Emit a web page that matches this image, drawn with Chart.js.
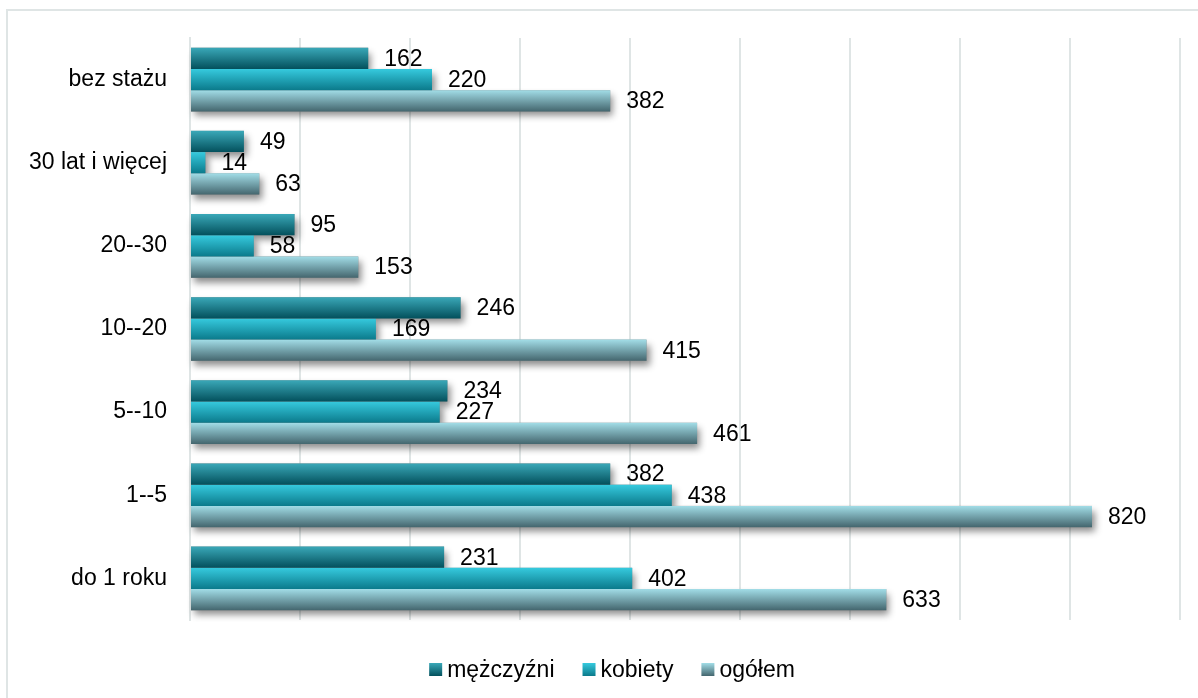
<!DOCTYPE html>
<html lang="pl">
<head>
  <meta charset="UTF-8">
  <title>Staż pracy</title>
  <script src="https://cdn.jsdelivr.net/npm/chart.js"></script>
  <style>
    body { margin: 0; overflow: hidden; background: #fff; }
    #frame {
      position: absolute; left: 6px; top: 9px;
      width: 1300px; height: 800px;
      border-left: 2px solid #dfe5e5; border-top: 2px solid #dfe5e5;
    }
    #wrap { position: absolute; left: 0; top: 0; }
  </style>
</head>
<body>
  <div id="frame"></div>
  <div id="wrap"><canvas id="chart" width="1198" height="698"></canvas></div>
  <script>
    // dane
    const categories = ['bez stażu', '30 lat i więcej', '20--30', '10--20', '5--10', '1--5', 'do 1 roku'];
    const seriesNames = ['mężczyźni', 'kobiety', 'ogółem'];
    const mezczyzni = [162, 49, 95, 246, 234, 382, 231];
    const kobiety = [220, 14, 58, 169, 227, 438, 402];
    const ogolem = [382, 63, 153, 415, 461, 820, 633];

    // kolory gradientów (góra, dół)
    const shades = [
      ['#3aa8b8', '#03505c'],
      ['#36cade', '#0b7a8b'],
      ['#a2dde7', '#44666e']
    ];
    const CAT_PCT = 0.766;
    const FONT = "'Liberation Sans', Arial, sans-serif";

    function barFill(c) {
      const chart = c.chart;
      const ys = chart.scales.y;
      const pair = shades[c.datasetIndex];
      if (!ys || c.type !== 'data') return pair[1];
      const band = (ys.bottom - ys.top) / categories.length;
      const thick = band * CAT_PCT / 3;
      const y0 = ys.getPixelForValue(c.dataIndex) - band * CAT_PCT / 2 + c.datasetIndex * thick;
      if (!isFinite(y0) || !isFinite(thick) || thick <= 0) return pair[1];
      const g = chart.ctx.createLinearGradient(0, y0, 0, y0 + thick);
      g.addColorStop(0, pair[0]);
      g.addColorStop(1, pair[1]);
      return g;
    }

    // cień pod słupkami
    const shadowPlugin = {
      id: 'shadow',
      beforeDatasetsDraw(chart) {
        const ctx = chart.ctx;
        ctx.save();
        ctx.shadowColor = 'rgba(0,0,0,0.45)';
        ctx.shadowBlur = 7;
        ctx.shadowOffsetX = 3;
        ctx.shadowOffsetY = 5;
        ctx.fillStyle = '#888';
        chart.data.datasets.forEach((ds, i) => {
          chart.getDatasetMeta(i).data.forEach(el => {
            const p = el.getProps(['x', 'y', 'base', 'height'], true);
            ctx.fillRect(p.base, p.y - p.height / 2, p.x - p.base, p.height);
          });
        });
        ctx.restore();
      }
    };

    // etykiety wartości
    const labelPlugin = {
      id: 'valueLabels',
      afterDatasetsDraw(chart) {
        const ctx = chart.ctx;
        ctx.save();
        ctx.font = '23px ' + FONT;
        ctx.fillStyle = '#000';
        ctx.textBaseline = 'middle';
        ctx.textAlign = 'left';
        chart.data.datasets.forEach((ds, i) => {
          chart.getDatasetMeta(i).data.forEach((el, j) => {
            ctx.fillText(ds.data[j], el.x + 16, el.y + 1);
          });
        });
        ctx.restore();
      }
    };

    // legenda na dole
    const legendPlugin = {
      id: 'bottomLegend',
      afterDraw(chart) {
        const ctx = chart.ctx;
        ctx.save();
        ctx.font = '23px ' + FONT;
        const box = 13, gapText = 5, gapItem = 28;
        const widths = seriesNames.map(n => ctx.measureText(n).width);
        const total = widths.reduce((a, w) => a + box + gapText + w, 0) + gapItem * (seriesNames.length - 1);
        let x = 612 - total / 2;
        const yc = 669.5;
        seriesNames.forEach((name, i) => {
          const g = ctx.createLinearGradient(0, yc - box / 2, 0, yc + box / 2);
          g.addColorStop(0, shades[i][0]);
          g.addColorStop(1, shades[i][1]);
          ctx.fillStyle = g;
          ctx.fillRect(x, yc - box / 2, box, box);
          x += box + gapText;
          ctx.fillStyle = '#000';
          ctx.textBaseline = 'middle';
          ctx.fillText(name, x, yc + 1);
          x += widths[i] + gapItem;
        });
        ctx.restore();
      }
    };

    new Chart(document.getElementById('chart'), {
      type: 'bar',
      data: {
        labels: categories,
        datasets: [
          { label: seriesNames[0], data: mezczyzni, backgroundColor: barFill },
          { label: seriesNames[1], data: kobiety, backgroundColor: barFill },
          { label: seriesNames[2], data: ogolem, backgroundColor: barFill }
        ]
      },
      options: {
        indexAxis: 'y',
        responsive: false,
        animation: false,
        datasets: { bar: { categoryPercentage: CAT_PCT, barPercentage: 1 } },
        layout: { padding: { top: 38, right: 18, bottom: 78, left: 0 } },
        plugins: { legend: { display: false }, tooltip: { enabled: false } },
        scales: {
          x: {
            min: 0, max: 900,
            ticks: { display: false, stepSize: 100 },
            grid: { color: '#dfe5e5', lineWidth: 2, drawTicks: false },
            border: { display: false },
            afterFit(s) { s.height = 0; }
          },
          y: {
            ticks: { color: '#000', padding: 23, font: { size: 23, family: FONT } },
            grid: { display: false, drawTicks: false },
            border: { color: '#dfe5e5', width: 2 },
            afterFit(s) { s.width = 190; }
          }
        }
      },
      plugins: [shadowPlugin, labelPlugin, legendPlugin]
    });
  </script>
</body>
</html>
